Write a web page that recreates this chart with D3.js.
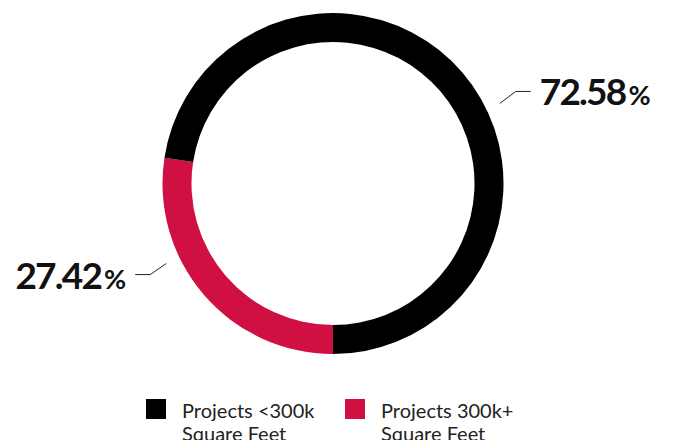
<!DOCTYPE html>
<html>
<head>
<meta charset="utf-8">
<script src="https://cdn.jsdelivr.net/npm/d3@7"></script>
<style>
    body { margin: 0; background: #fff; }
    svg { display: block; font-family: Lato, "Noto Sans", sans-serif; }
    .pct-num { font-weight: 700; font-size: 37px; letter-spacing: -1.8px; fill: #111; }
    .pct-sign { font-weight: 700; font-size: 27px; fill: #111; }
    .legend-text { font-size: 20px; fill: #222; }
</style>
</head>
<body>
<div id="chart"></div>
<script>
    // data
    const categories = ["Projects 300k+ Square Feet", "Projects <300k Square Feet"];
    const values = [27.42, 72.58];
    const colors = ["#d01042", "#000000"];
    const legendOrder = [1, 0]; // legend lists the black slice first

    const width = 673;
    const height = 440;
    const cx = 333;
    const cy = 183.5;
    const outerR = 170.5;
    const innerR = 141.5;

    const svg = d3.select("#chart").append("svg")
        .attr("width", width)
        .attr("height", height);

    const g = svg.append("g")
        .attr("transform", `translate(${cx} ${cy})`);

    const pie = d3.pie()
        .sort(null)
        .value(d => d)
        .startAngle(Math.PI)
        .endAngle(3 * Math.PI);

    const arcs = pie(values);

    const arc = d3.arc()
        .innerRadius(innerR)
        .outerRadius(outerR);

    g.selectAll(".slice")
        .data(arcs)
        .join("path")
        .attr("class", "slice")
        .attr("fill", (d, i) => colors[i])
        .attr("d", arc);

    // leader lines + labels
    const angleShift = 15 * Math.PI / 180;
    const leadR = 185;

    arcs.forEach((d, i) => {
        const a = (d.startAngle + d.endAngle) / 2 + angleShift;
        const x0 = leadR * Math.sin(a);
        const y0 = -leadR * Math.cos(a);
        const right = Math.sin(a) > 0;
        const dir = right ? 1 : -1;
        const x1 = x0 + dir * 16;
        const y1 = y0 + (right ? -12 : 11);
        const x2 = x1 + dir * 15;

        g.append("path")
            .attr("d", `M${x0},${y0}L${x1},${y1}L${x2},${y1}`)
            .attr("fill", "none")
            .attr("stroke", "#222")
            .attr("stroke-width", 1);

        const label = g.append("text")
            .attr("x", x2 + dir * 9)
            .attr("y", y1 + 14)
            .attr("text-anchor", right ? "start" : "end");

        label.append("tspan")
            .attr("class", "pct-num")
            .text(d3.format(".2f")(d.data));
        label.append("tspan")
            .attr("class", "pct-sign")
            .attr("dx", 3)
            .text("%");
    });

    // legend
    const legend = svg.append("g")
        .attr("transform", "translate(146 399)");

    const item = legend.selectAll(".legend-item")
        .data(legendOrder)
        .join("g")
        .attr("class", "legend-item")
        .attr("transform", (d, i) => `translate(${i * 199} 0)`);

    item.append("rect")
        .attr("width", 20)
        .attr("height", 20)
        .attr("fill", d => colors[d]);

    item.each(function (d) {
        const words = categories[d].split(" ");
        const lines = [words.slice(0, 2).join(" "), words.slice(2).join(" ")];
        const t = d3.select(this).append("text")
            .attr("class", "legend-text")
            .attr("x", 36)
            .attr("y", 19);
        t.selectAll("tspan")
            .data(lines)
            .join("tspan")
            .attr("x", 36)
            .attr("dy", (l, j) => j === 0 ? 0 : 23)
            .text(l => l);
    });
</script>
</body>
</html>
